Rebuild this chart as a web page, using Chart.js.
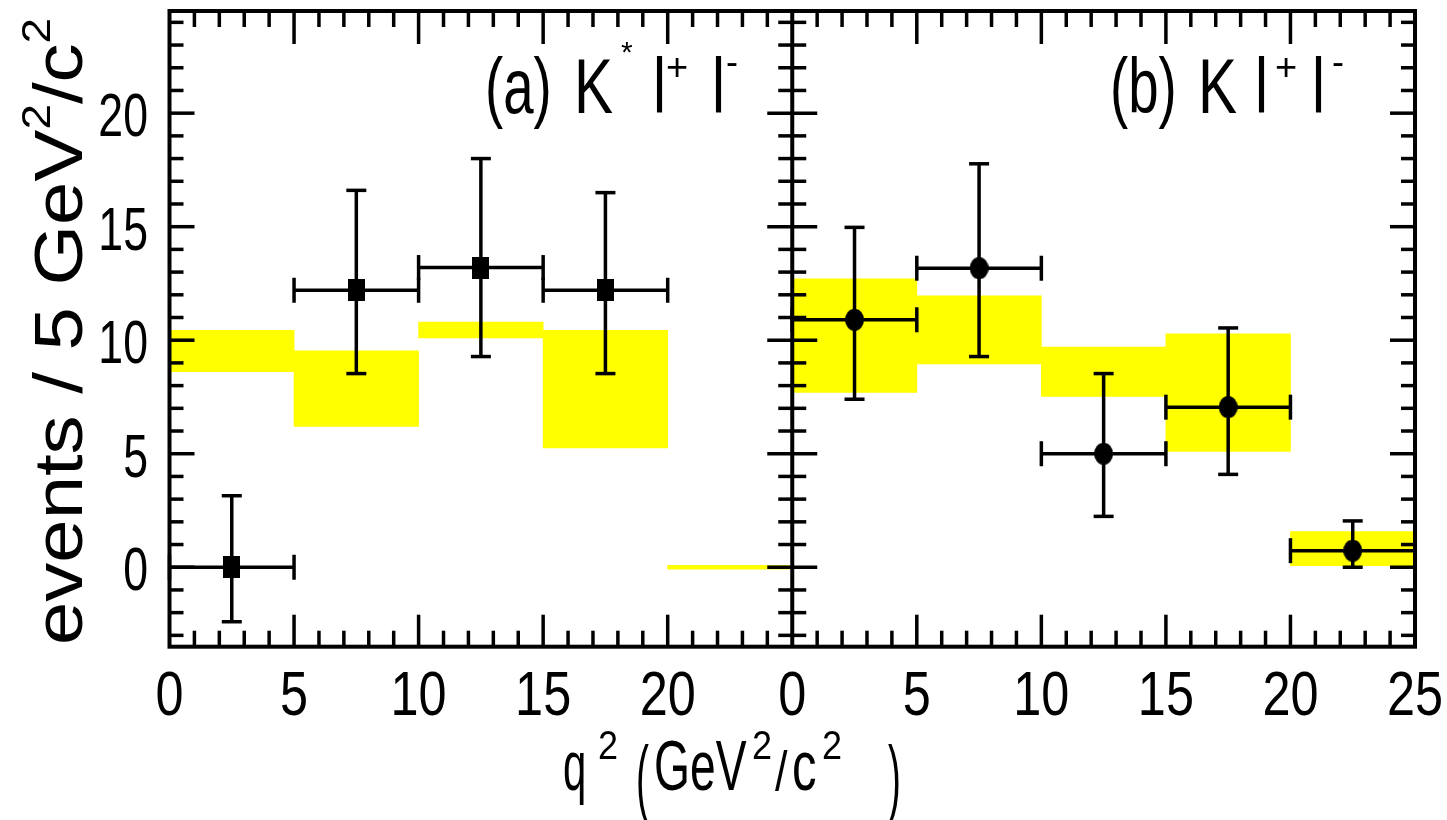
<!DOCTYPE html>
<html><head><meta charset="utf-8">
<script src="https://cdn.jsdelivr.net/npm/chart.js@4.4.1/dist/chart.umd.min.js"></script>
<style>html,body{margin:0;padding:0;background:#fff;overflow:hidden}canvas{display:block}</style>
</head><body>
<canvas id="c" width="1447" height="820"></canvas>
<script>
// ---------------- data ----------------
const binCenters = [2.5, 7.5, 12.5, 17.5, 22.5];
const binWidth = 5;
const panelOffsetB = 25;            // panel (b) is drawn to the right of panel (a)

// panel (a)  K* l+ l-
const kstarPointX = [2.5, 7.5, 12.5, 17.5];
const kstarY      = [0, 12.2, 13.2, 12.2];
const kstarYHigh  = [3.15, 16.6, 18.0, 16.5];
const kstarYLow   = [-2.4, 8.53, 9.28, 8.53];
const kstarBandLow  = [8.61, 6.2, 10.1, 5.26, -0.08];
const kstarBandHigh = [10.44, 9.53, 10.8, 10.44, 0.08];

// panel (b)  K l+ l-
const kPointX = [2.5, 7.5, 12.5, 17.5, 22.5];
const kY      = [10.9, 13.17, 5.0, 7.05, 0.73];
const kYHigh  = [14.97, 17.77, 8.53, 10.54, 2.04];
const kYLow   = [7.4, 9.28, 2.24, 4.09, 0.0];
const kBandLow  = [7.7, 8.96, 7.52, 5.1, 0.07];
const kBandHigh = [12.7, 11.95, 9.7, 10.28, 1.57];

// axes
const xTickLabelsA = [0, 5, 10, 15, 20];
const xTickLabelsB = [0, 5, 10, 15, 20, 25];
const yTickLabels  = [0, 5, 10, 15, 20];
const yMin = -3.5, yMax = 24.5;

// ---------------- build ----------------
const bandA = binCenters.map((c, i) => ({x: c, y: [kstarBandLow[i], kstarBandHigh[i]]}));
const bandB = binCenters.map((c, i) => ({x: c + panelOffsetB, y: [kBandLow[i], kBandHigh[i]]}));
const ptsA = kstarPointX.map((c, i) => ({x: c, y: kstarY[i]}));
const ptsB = kPointX.map((c, i) => ({x: c + panelOffsetB, y: kY[i]}));

function makeMarker(w, h, shape) {
  const c = document.createElement('canvas');
  c.width = w; c.height = h;
  const g = c.getContext('2d');
  g.fillStyle = '#000';
  if (shape === 'rect') g.fillRect(0, 0, w, h);
  else { g.beginPath(); g.ellipse(w / 2, h / 2, w / 2, h / 2, 0, 0, Math.PI * 2); g.fill(); }
  return c;
}
const squareMarker = makeMarker(17, 22, 'rect');
const roundMarker = makeMarker(19, 22, 'ellipse');

const FF = '"Liberation Sans", Arial, Helvetica, sans-serif';
function txt(ctx, s, x, y, size, sx, align) {
  ctx.save();
  ctx.translate(x, y);
  ctx.scale(sx, 1);
  ctx.font = size + 'px ' + FF;
  ctx.textAlign = align || 'left';
  ctx.textBaseline = 'alphabetic';
  ctx.fillStyle = '#000';
  ctx.fillText(s, 0, 0);
  ctx.restore();
}

const hepPlugin = {
  id: 'hep',
  afterDatasetsDraw(chart) {
    const {ctx, chartArea: a, scales: {x, y}} = chart;
    ctx.save();
    ctx.strokeStyle = '#000';
    ctx.lineCap = 'butt';
    const line = (x1, y1, x2, y2) => { ctx.beginPath(); ctx.moveTo(x1, y1); ctx.lineTo(x2, y2); ctx.stroke(); };

    // error bars
    ctx.lineWidth = 3.5;
    function errs(px, py, hi, lo, off) {
      for (let i = 0; i < px.length; i++) {
        const cx = x.getPixelForValue(px[i] + off), cy = y.getPixelForValue(py[i]);
        const xl = x.getPixelForValue(px[i] - binWidth / 2 + off);
        const xr = x.getPixelForValue(px[i] + binWidth / 2 + off);
        const yh = y.getPixelForValue(hi[i]), yl = y.getPixelForValue(lo[i]);
        line(xl, cy, xr, cy);
        line(cx, yh, cx, yl);
        line(cx - 10, yh, cx + 10, yh);
        line(cx - 10, yl, cx + 10, yl);
        line(xl, cy - 12.5, xl, cy + 12.5);
        line(xr, cy - 12.5, xr, cy + 12.5);
      }
    }
    errs(kstarPointX, kstarY, kstarYHigh, kstarYLow, 0);
    errs(kPointX, kY, kYHigh, kYLow, panelOffsetB);

    // ticks
    ctx.lineWidth = 3.5;
    for (let v = 0; v <= 50; v++) {
      if (v % 25 === 0) continue;
      const px = x.getPixelForValue(v);
      const major = v % 5 === 0;
      line(px, a.bottom, px, a.bottom - (major ? 32 : 16));
      line(px, a.top, px, a.top + (major ? 33 : 16));
    }
    const mx = x.getPixelForValue(panelOffsetB);
    for (let v = Math.ceil(yMin); v <= Math.floor(yMax); v++) {
      const py = y.getPixelForValue(v);
      const L = v % 5 === 0 ? 25 : 14;
      line(a.left, py, a.left + L, py);
      line(mx - L, py, mx + L, py);
      line(a.right - L, py, a.right, py);
    }
    // frame + divider
    ctx.lineWidth = 4;
    ctx.strokeRect(a.left, a.top, a.right - a.left, a.bottom - a.top);
    line(mx, a.top, mx, a.bottom);
    ctx.restore();
  },
  afterDraw(chart) {
    const {ctx, scales: {x, y}} = chart;
    // x tick labels
    xTickLabelsA.forEach(v => txt(ctx, String(v), x.getPixelForValue(v), 715, 63, 0.8, 'center'));
    xTickLabelsB.forEach(v => txt(ctx, String(v), x.getPixelForValue(v + panelOffsetB), 715, 63, 0.8, 'center'));
    // y tick labels
    yTickLabels.forEach(v => txt(ctx, String(v), 148, y.getPixelForValue(v) + 23, 62, 0.72, 'right'));

    // x title  q^2 (GeV^2/c^2)
    txt(ctx, 'q', 563, 790, 70, 0.6);
    txt(ctx, '2', 598, 759, 40, 0.9);
    txt(ctx, '(', 636, 806, 86, 0.45);
    txt(ctx, 'GeV', 654, 790, 70, 0.66);
    txt(ctx, '2', 752, 759, 40, 0.9);
    txt(ctx, '/', 775, 790, 56, 0.8);
    txt(ctx, 'c', 792, 790, 70, 0.7);
    txt(ctx, '2', 822, 759, 40, 0.9);
    txt(ctx, ')', 888, 806, 86, 0.45);

    // y title (rotated)  events / 5 GeV^2/c^2
    ctx.save();
    ctx.translate(82, 645);
    ctx.rotate(-Math.PI / 2);
    const segs = [
      {t: 'events / 5 GeV', s: 68, dy: 0},
      {t: '2', s: 40, dy: -32},
      {t: '/c', s: 68, dy: 0},
      {t: '2', s: 40, dy: -32}
    ];
    let total = 0;
    segs.forEach(g => { ctx.font = g.s + 'px ' + FF; g.w = ctx.measureText(g.t).width; total += g.w; });
    const k = 627 / total;
    ctx.scale(k, 1);
    ctx.fillStyle = '#000';
    ctx.textBaseline = 'alphabetic';
    ctx.textAlign = 'left';
    let cur = 0;
    segs.forEach(g => { ctx.font = g.s + 'px ' + FF; ctx.fillText(g.t, cur, g.dy); cur += g.w; });
    ctx.restore();

    // panel labels
    txt(ctx, '(a)', 485, 113, 78, 0.7);
    txt(ctx, 'K', 574, 113, 78, 0.75);
    txt(ctx, '*', 621, 62, 30, 1.0);
    txt(ctx, 'l', 653, 113, 78, 0.75);
    txt(ctx, '+', 666, 80, 38, 1.0);
    txt(ctx, 'l', 712, 113, 78, 0.75);
    txt(ctx, '-', 726, 74, 36, 1.0);

    txt(ctx, '(b)', 1110, 113, 78, 0.7);
    txt(ctx, 'K', 1198, 113, 78, 0.75);
    txt(ctx, 'l', 1255, 113, 78, 0.75);
    txt(ctx, '+', 1275, 80, 38, 1.0);
    txt(ctx, 'l', 1312, 113, 78, 0.75);
    txt(ctx, '-', 1332, 74, 36, 1.0);
  }
};

new Chart(document.getElementById('c'), {
  type: 'bar',
  data: {
    datasets: [
      {type: 'bar', data: bandA, backgroundColor: '#ffff00', borderWidth: 0, barPercentage: 1, categoryPercentage: 1, grouped: false, order: 2},
      {type: 'bar', data: bandB, backgroundColor: '#ffff00', borderWidth: 0, barPercentage: 1, categoryPercentage: 1, grouped: false, order: 2},
      {type: 'scatter', data: ptsA, pointStyle: squareMarker, pointRadius: 10, order: 1},
      {type: 'scatter', data: ptsB, pointStyle: roundMarker, pointRadius: 10, order: 1}
    ]
  },
  options: {
    responsive: false,
    animation: false,
    devicePixelRatio: 1,
    layout: {padding: {left: 169.5, right: 32, top: 9.5, bottom: 173.3}},
    scales: {
      x: {type: 'linear', min: 0, max: 50, offset: false, ticks: {stepSize: 5}, display: false},
      y: {type: 'linear', min: yMin, max: yMax, display: false}
    },
    plugins: {legend: {display: false}, tooltip: {enabled: false}}
  },
  plugins: [hepPlugin]
});
</script>
</body></html>
